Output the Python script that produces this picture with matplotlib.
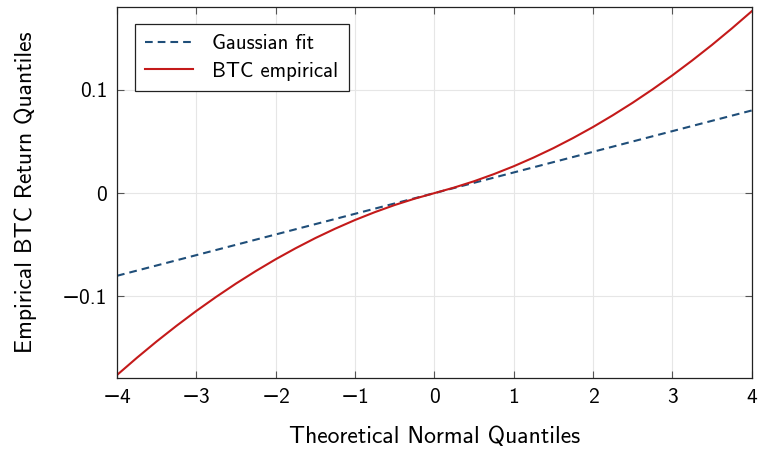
import numpy as np
import matplotlib
matplotlib.use('Agg')
import matplotlib.pyplot as plt

# values
x_gauss = [-4, -3, -2, -1, 0, 1, 2, 3, 4]
y_gauss = [-0.08, -0.06, -0.04, -0.02, 0.0, 0.02, 0.04, 0.06, 0.08]

x_btc = [-4, -3.75, -3.5, -3.25, -3, -2.75, -2.5, -2.25, -2, -1.75, -1.5, -1.25,
         -1, -0.75, -0.5, -0.25, 0, 0.25, 0.5, 0.75, 1, 1.25, 1.5, 1.75,
         2, 2.25, 2.5, 2.75, 3, 3.25, 3.5, 3.75, 4]
y_btc = [-0.176, -0.1594, -0.1435, -0.1284, -0.114, -0.1004, -0.0875, -0.0754,
         -0.064, -0.0534, -0.0435, -0.0344, -0.026, -0.0184, -0.0115, -0.0054,
         0.0, 0.0054, 0.0115, 0.0184, 0.026, 0.0344, 0.0435, 0.0534,
         0.064, 0.0754, 0.0875, 0.1004, 0.114, 0.1284, 0.1435, 0.1594, 0.176]

x_ticks = [-4, -3, -2, -1, 0, 1, 2, 3, 4]
y_ticks = [-0.1, 0, 0.1]
y_ticklabels = ['\u22120.1', '0', '0.1']
x_ticklabels = [('\u2212%d' % -v) if v < 0 else str(v) for v in x_ticks]

plt.rcParams['font.family'] = ['cmss10', 'DejaVu Sans']
plt.rcParams['axes.unicode_minus'] = True

fig = plt.figure(figsize=(7.6, 4.49), dpi=100)
ax = fig.add_axes([0.154, 0.158, 0.835, 0.826])

ax.plot(x_gauss, y_gauss, color='#1f4e79', lw=1.5, dashes=(3.7, 2.4), label='Gaussian fit')
ax.plot(x_btc, y_btc, color='#c41a1a', lw=1.5, label='BTC empirical')

ax.set_xlim(-4, 4)
ax.set_ylim(-0.179, 0.18)
ax.set_xticks(x_ticks)
ax.set_xticklabels(x_ticklabels)
ax.set_yticks(y_ticks)
ax.set_yticklabels(y_ticklabels)
ax.tick_params(direction='in', top=True, right=True, length=5, width=0.8,
               color='#555555', labelsize=15.5, pad=7)
ax.grid(True, color='#e6e6e6', lw=0.8)
ax.set_axisbelow(True)
for s in ax.spines.values():
    s.set_linewidth(0.9)
    s.set_color('#222222')

ax.set_xlabel('Theoretical Normal Quantiles', fontsize=17, labelpad=14)
ax.set_ylabel('Empirical BTC Return Quantiles', fontsize=17, labelpad=18)

leg = ax.legend(loc='upper left', fontsize=15, frameon=True, fancybox=False,
                edgecolor='#222222', framealpha=1, borderpad=0.5,
                handlelength=2.3, handletextpad=0.9, labelspacing=0.4,
                bbox_to_anchor=(0.012, 0.983))
leg.get_frame().set_linewidth(0.9)

fig.savefig('out.png', dpi=100)
